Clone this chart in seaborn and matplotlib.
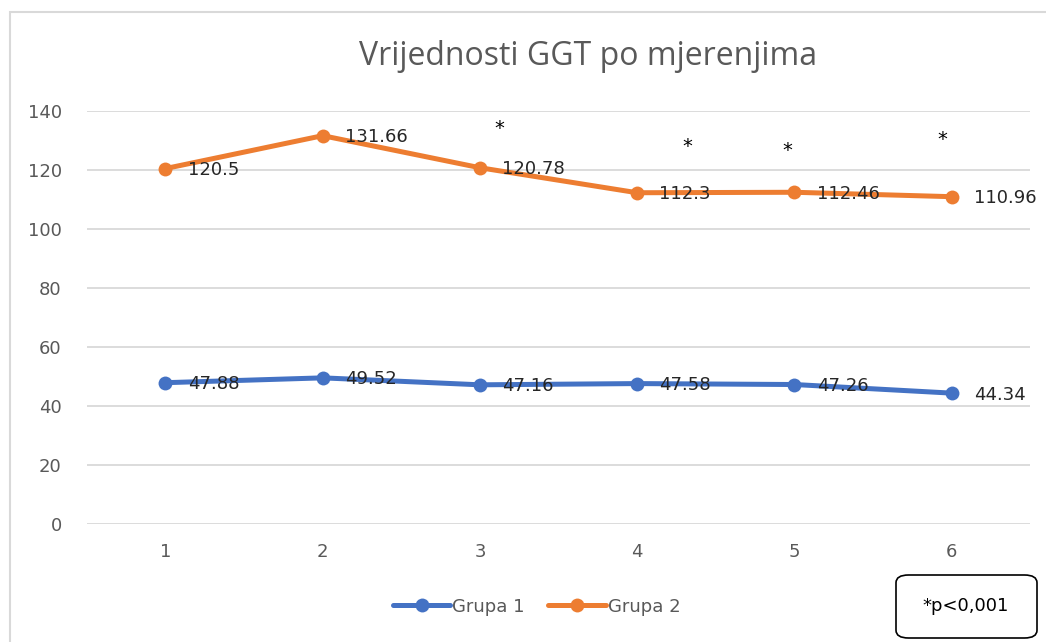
import numpy as np
import pandas as pd
import matplotlib
matplotlib.use("Agg")
import matplotlib.pyplot as plt
from matplotlib.patches import FancyBboxPatch, Rectangle
import seaborn as sns

# data
mjerenja = [1, 2, 3, 4, 5, 6]
grupa_1 = [47.88, 49.52, 47.16, 47.58, 47.26, 44.34]
grupa_2 = [120.5, 131.66, 120.78, 112.3, 112.46, 110.96]
# measurements marked with * (p<0.001)
znacajno = [3, 4, 5, 6]
y_ticks = [0, 20, 40, 60, 80, 100, 120, 140]

df = pd.DataFrame({
    "mjerenje": mjerenja * 2,
    "vrijednost": grupa_1 + grupa_2,
    "grupa": ["Grupa 1"] * 6 + ["Grupa 2"] * 6,
})

sns.set_style("white")
plt.rcParams["font.family"] = ["DejaVu Sans"]

BLUE = "#4472C4"
ORANGE = "#ED7D31"
GREY = "#595959"

fig = plt.figure(figsize=(10.46, 6.42), dpi=100)
ax = fig.add_axes([0.083, 0.184, 0.902, 0.643])

sns.lineplot(data=df, x="mjerenje", y="vrijednost", hue="grupa",
             palette={"Grupa 1": BLUE, "Grupa 2": ORANGE},
             marker="o", markersize=10, markeredgewidth=0,
             linewidth=3.6, ax=ax, legend=True)

# data labels right of each point
for vals in (grupa_1, grupa_2):
    for x, v in zip(mjerenja, vals):
        ax.annotate(f"{v:g}", (x, v), xytext=(16, -1), textcoords="offset points",
                    ha="left", va="center", fontsize=13, color="#262626")

# asterisks above the significant measurements (offsets in points)
star_off = {3: (14, 28), 4: (36, 33), 5: (-5, 30), 6: (-7, 41)}
for x in znacajno:
    v = grupa_2[x - 1]
    dx, dy = star_off[x]
    ax.annotate("*", (x, v), xytext=(dx, dy), textcoords="offset points",
                ha="center", va="center", fontsize=14, color="black")

ax.set_xlim(0.5, 6.5)
ax.set_ylim(0, 140)
ax.set_xticks(mjerenja)
ax.set_yticks(y_ticks)
ax.tick_params(axis="both", length=0, labelsize=13, labelcolor=GREY)
ax.tick_params(axis="x", pad=14)
ax.tick_params(axis="y", pad=18)
ax.yaxis.grid(True, color="#D9D9D9", linewidth=1.3)
ax.set_axisbelow(True)
for s in ax.spines.values():
    s.set_visible(False)
ax.set_xlabel("")
ax.set_ylabel("")

fig.text(0.562, 0.912, "Vrijednosti GGT po mjerenjima", ha="center", va="center",
         fontsize=23, color=GREY, family=["Open Sans", "DejaVu Sans"])

handles, labels = ax.get_legend_handles_labels()
ax.legend(handles, labels, loc="center", bbox_to_anchor=(0.513, 0.055),
          bbox_transform=fig.transFigure, ncol=2, frameon=False, fontsize=13,
          labelcolor=GREY, handlelength=3.2, handletextpad=0.1, columnspacing=1.3)

# chart border (left/top visible in the crop)
fig.patches.append(Rectangle((10 / 1046, -0.1), 1.2, 1 - 12 / 642 + 0.1,
                             transform=fig.transFigure, fill=False,
                             edgecolor="#D9D9D9", linewidth=1.5))

# note box
fig.patches.append(FancyBboxPatch((896 / 1046, 4 / 642), 141 / 1046, 63 / 642,
                                  boxstyle="round,pad=0,rounding_size=0.012",
                                  transform=fig.transFigure, facecolor="white",
                                  edgecolor="black", linewidth=1.2))
fig.text(966 / 1046, 1 - 606 / 642, "*p<0,001", ha="center", va="center",
         fontsize=13, color="black")

fig.savefig("out.png", dpi=100)
